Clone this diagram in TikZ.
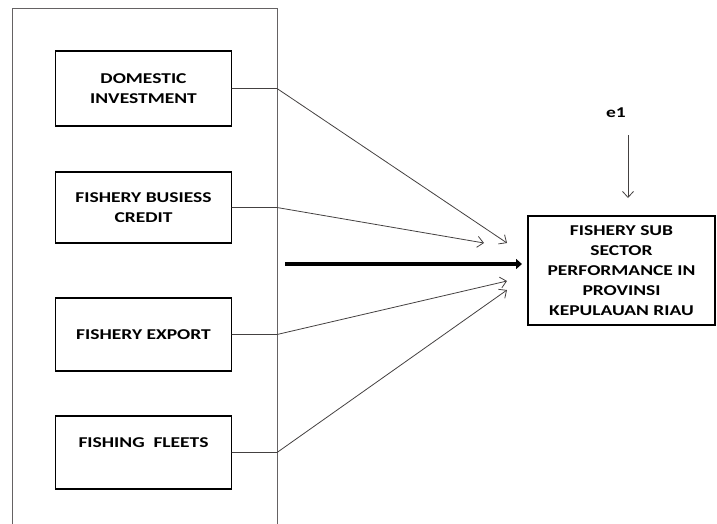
\documentclass[tikz,border=0pt]{standalone}
\usepackage{fontspec}
\setmainfont{Carlito}[FakeStretch=1.3]
\newcommand*{\boxfont}{\bfseries\fontsize{15}{20}\selectfont}
\definecolor{frame}{cmyk}{0.00,0.00,0.00,0.70}
\definecolor{wire}{cmyk}{0.00,0.00,0.00,0.85}
\usetikzlibrary{arrows.meta}
\usetikzlibrary{positioning}
\tikzstyle{base}=[x=1pt, y=-1pt, inner sep=0pt, outer sep=0pt]
\tikzstyle{varbox}=[draw, line width=1.8pt, minimum width=176pt, minimum height=73pt, align=center, font=\boxfont]
\tikzstyle{wireline}=[wire, line width=0.8pt, -{Straight Barb[length=6pt, width=11pt]}]

\begin{document}
\begin{tikzpicture}[base]
    \path [use as bounding box] (0,0) rectangle (717,523);
    % left frame, open at the bottom
    \draw [frame, line width=1pt] (12,530) -- (12,8) -- (277,8) -- (277,530);
    \coordinate (frameR) at (277,0);
    % independent variables
    \node [varbox, minimum height=75pt] (dom) at (143.5,88.5) {DOMESTIC\\INVESTMENT};
    \node [varbox, minimum height=71pt, below=46pt of dom] (credit) {FISHERY BUSIESS\\CREDIT};
    \node [varbox, below=55pt of credit] (export) {FISHERY EXPORT};
    \node [varbox, below=45pt of export] (fleet) {FISHING~~FLEETS\\~};
    % dependent variable
    \node [draw, line width=1.8pt, minimum width=187pt, minimum height=109pt, align=center, font=\boxfont] (perf) at (621.5,270.5)
        {FISHERY SUB\\SECTOR\\PERFORMANCE IN\\PROVINSI\\KEPULAUAN RIAU};
    \node [font=\boxfont] (e1) at (616,113) {e1};
    % arrow tips
    \coordinate (tipA) at (507,243);
    \coordinate (tipB) at (484,243);
    \coordinate (tipC) at (507,281);
    \coordinate (tipD) at (507,290);
    \coordinate (thickS) at (285,264);
    \coordinate (thickE) at (522,264);
    \coordinate (eS) at (628,135);
    \coordinate (eE) at (628,198);
    % connectors
    \draw [wireline] (dom.east) -- (dom.east -| frameR) -- (tipA);
    \draw [wireline] (credit.east) -- (credit.east -| frameR) -- (tipB);
    \draw [wireline] (export.east) -- (export.east -| frameR) -- (tipC);
    \draw [wireline] (fleet.east) -- (fleet.east -| frameR) -- (tipD);
    \draw [line width=3.5pt, -{Triangle[length=6pt, width=10pt]}] (thickS) -- (thickE);
    \draw [wireline] (eS) -- (eE);
\end{tikzpicture}
\end{document}
